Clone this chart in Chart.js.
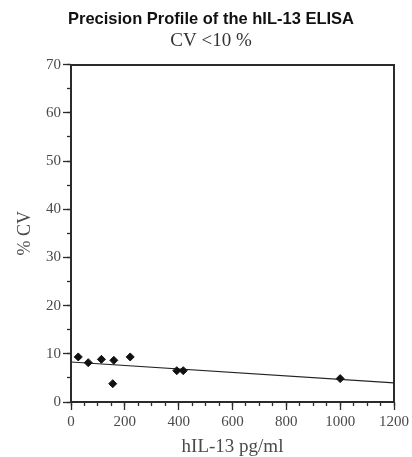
<!DOCTYPE html>
<html><head><meta charset="utf-8">
<script src="https://cdn.jsdelivr.net/npm/chart.js@4"></script>
<style>html,body{margin:0;padding:0;background:#fff}canvas{display:block}</style>
</head><body>
<canvas id="c" width="412" height="457"></canvas>
<script>
// Data
const concentrations = [27, 64, 113, 159, 155, 220, 393, 417, 1000]; // hIL-13 pg/ml
const cvValues       = [9.35, 8.16, 8.85, 8.64, 3.8, 9.35, 6.5, 6.5, 4.85]; // % CV
const fitX = [0, 1200];
const fitY = [8.3, 3.95];
const xTickValues = [0, 200, 400, 600, 800, 1000, 1200];
const yTickValues = [0, 10, 20, 30, 40, 50, 60, 70];

const AXIS = '#2b2b2b';
const TXT = '#4a4a4a';
const serif = '"Liberation Serif", "DejaVu Serif", serif';

const points = concentrations.map((x, i) => ({x, y: cvValues[i]}));
const fitLine = fitX.map((x, i) => ({x, y: fitY[i]}));

function frameAxis(pos, min, max, size) {
  return {
    type: 'linear', position: pos, min, max, weight: 0,
    ticks: {display: false},
    grid: {display: false},
    border: {display: true, color: AXIS, width: 2},
    afterFit: s => { if (pos === 'top') s.height = size; else s.width = size; }
  };
}
function minorAxis(pos, min, max, step) {
  return {
    type: 'linear', position: pos, min, max, weight: -1,
    ticks: {display: false, stepSize: step, autoSkip: false},
    grid: {display: true, drawOnChartArea: false, drawTicks: true, tickLength: 4, tickColor: AXIS, tickWidth: 1.3},
    border: {display: false},
    afterFit: s => { if (pos === 'bottom') s.height = 0; else s.width = 0; }
  };
}

new Chart(document.getElementById('c'), {
  data: {
    datasets: [
      {
        type: 'scatter', data: points, xAxisID: 'x', yAxisID: 'y',
        pointStyle: 'rectRot', pointRadius: 4, pointHoverRadius: 4,
        backgroundColor: '#111', borderColor: '#111', borderWidth: 1
      },
      {
        type: 'line', data: fitLine, xAxisID: 'x', yAxisID: 'y',
        borderColor: '#222', borderWidth: 1.2, pointRadius: 0, fill: false, tension: 0
      }
    ]
  },
  options: {
    responsive: false, animation: false,
    layout: {padding: {left: 10, right: 0, top: 0, bottom: 0}},
    plugins: {
      legend: {display: false},
      tooltip: {enabled: false},
      title: {
        display: true, text: 'Precision Profile of the hIL-13 ELISA', color: '#111',
        font: {family: '"Liberation Sans", Arial, sans-serif', size: 16.5, weight: 'bold'},
        padding: {top: 10, bottom: 0}
      },
      subtitle: {
        display: true, text: 'CV <10 %', color: '#333',
        font: {family: serif, size: 19, weight: 'normal'},
        padding: {top: 0, bottom: 12}
      }
    },
    scales: {
      x: {
        type: 'linear', position: 'bottom', min: 0, max: 1200, weight: 0,
        afterBuildTicks: s => { s.ticks = xTickValues.map(v => ({value: v})); },
        ticks: {autoSkip: false, maxRotation: 0, color: TXT, font: {family: serif, size: 15}, padding: 3,
                callback: v => String(v)},
        grid: {drawOnChartArea: false, tickLength: 8, tickColor: AXIS, tickWidth: 1.3},
        border: {color: AXIS, width: 2},
        title: {display: true, text: 'hIL-13 pg/ml', color: TXT, font: {family: serif, size: 19, lineHeight: 1}, padding: {top: 0, bottom: 0}},
        afterFit: s => { s.height = 55; }
      },
      xMinor: minorAxis('bottom', 0, 1200, 50),
      y: {
        type: 'linear', position: 'left', min: 0, max: 70, weight: 0,
        afterBuildTicks: s => { s.ticks = yTickValues.map(v => ({value: v})); },
        ticks: {autoSkip: false, color: TXT, font: {family: serif, size: 15}, padding: 2,
                callback: v => String(v)},
        grid: {drawOnChartArea: false, tickLength: 8, tickColor: AXIS, tickWidth: 1.3},
        border: {color: AXIS, width: 2},
        title: {display: true, text: '% CV', color: TXT, font: {family: serif, size: 18, lineHeight: 1}, padding: {top: 6, bottom: 0}},
        afterFit: s => { s.width = 61; }
      },
      yMinor: minorAxis('left', 0, 70, 5),
      xTop: frameAxis('top', 0, 1200, 0),
      yRight: frameAxis('right', 0, 70, 16)
    }
  }
});
</script>
</body></html>
